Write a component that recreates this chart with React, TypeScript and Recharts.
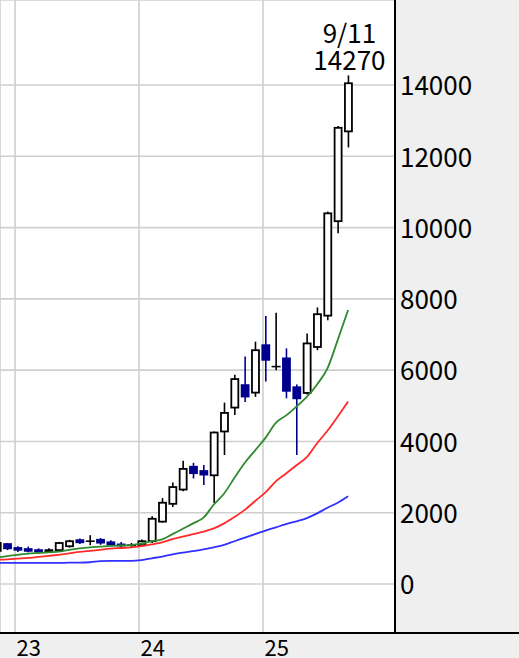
import React from 'react';
import { ComposedChart, Bar, Line, XAxis, YAxis, CartesianGrid } from 'recharts';

// monthly candles, index -1 = 2022-11 ... 33 = 2025-09
const monthIndex = [-1, 0, 1, 2, 3, 4, 5, 6, 7, 8, 9, 10, 11, 12, 13, 14, 15, 16, 17, 18, 19, 20, 21, 22, 23, 24, 25, 26, 27, 28, 29, 30, 31, 32, 33];
const opens = [930, 1120, 1010, 980, 950, 910, 950, 1060, 1230, 1200, 1240, 1170, 1110, 1080, 1090, 1200, 1750, 2250, 2650, 3290, 3170, 3050, 4280, 4950, 5580, 5370, 6700, 6100, 6330, 5520, 5360, 6650, 7530, 10180, 12700];
const highs = [1200, 1150, 1060, 1050, 1000, 1000, 1180, 1240, 1280, 1370, 1290, 1230, 1180, 1150, 1250, 1900, 2410, 2850, 3460, 3400, 3340, 4280, 5090, 5870, 6380, 6800, 7520, 7610, 6610, 5600, 7030, 7760, 10450, 12850, 14270];
const lows = [900, 950, 900, 890, 860, 880, 930, 1020, 1120, 1090, 1100, 1060, 1010, 1030, 1050, 1150, 1720, 2160, 2600, 2960, 2780, 2270, 3620, 4740, 5110, 5250, 5680, 6000, 5210, 3620, 5320, 6560, 7400, 9840, 12250];
const closes = [1150, 1000, 960, 930, 910, 950, 1150, 1200, 1170, 1200, 1160, 1110, 1080, 1090, 1200, 1830, 2280, 2720, 3230, 3110, 3070, 4250, 4800, 5750, 5260, 6560, 6290, 6100, 5420, 5210, 6750, 7570, 10400, 12800, 14050];
const maShort = [740, 780, 820, 850, 870, 890, 910, 960, 1000, 1030, 1050, 1070, 1080, 1090, 1140, 1200, 1250, 1400, 1550, 1700, 1860, 2230, 2540, 2980, 3400, 3750, 4100, 4520, 4730, 4980, 5250, 5600, 6050, 6850, 7690];
const maMid = [680, 690, 710, 730, 760, 790, 820, 860, 900, 930, 960, 990, 1010, 1030, 1060, 1110, 1170, 1260, 1330, 1400, 1470, 1560, 1700, 1880, 2080, 2330, 2570, 2880, 3100, 3330, 3560, 3950, 4300, 4700, 5120];
const maLong = [590, 590, 590, 590, 590, 590, 590, 600, 600, 610, 640, 650, 650, 650, 670, 720, 770, 830, 880, 920, 970, 1030, 1100, 1200, 1300, 1400, 1500, 1590, 1680, 1760, 1850, 1980, 2140, 2280, 2460];

const xTicks = [0.76, 12.76, 24.76];
const xTickLabels = ['23', '24', '25'];
const yTicks = [0, 2000, 4000, 6000, 8000, 10000, 12000, 14000];
const lastDateLabel = '9/11';
const lastPriceLabel = '14270';

const data = monthIndex.map((i, k) => ({
  i,
  range: [lows[k], highs[k]],
  o: opens[k],
  h: highs[k],
  l: lows[k],
  c: closes[k],
  ma1: maShort[k],
  ma2: maMid[k],
  ma3: maLong[k],
  last: k === monthIndex.length - 1,
}));

const FONT = '"Noto Sans CJK JP", "Noto Sans", sans-serif';
const DOWN = '#00008f';

const Candle = (props: any) => {
  const { x, y, width, height, payload } = props;
  if (!payload || x == null || y == null) return null;
  const top = Math.min(y, y + height);
  const bottom = Math.max(y, y + height);
  const span = payload.h - payload.l;
  const toY = (v: number) => (span === 0 ? top : top + ((payload.h - v) / span) * (bottom - top));
  const cx = x + width / 2;
  const up = payload.c >= payload.o;
  const color = up ? '#000' : DOWN;
  const bTop = toY(Math.max(payload.o, payload.c));
  const bBot = toY(Math.min(payload.o, payload.c));
  const bw = 7;
  return (
    <g>
      <line x1={cx} x2={cx} y1={top} y2={bottom} stroke={color} strokeWidth={1.6} />
      {bBot - bTop < 1 ? (
        <line x1={cx - bw / 2 - 1} x2={cx + bw / 2 + 1} y1={bTop} y2={bTop} stroke={color} strokeWidth={1.6} />
      ) : (
        <rect x={cx - bw / 2} y={bTop} width={bw} height={bBot - bTop} fill={up ? '#fff' : DOWN} stroke={color} strokeWidth={1.8} />
      )}
      {payload.last && (
        <g fontFamily={FONT} fontSize={26} fill="#000" textAnchor="middle">
          <text x={cx + 1} y={top - 32}>{lastDateLabel}</text>
          <text x={cx + 1} y={top - 5}>{lastPriceLabel}</text>
        </g>
      )}
    </g>
  );
};

const XTick = (props: any) => {
  const { x, y, payload } = props;
  const k = xTicks.indexOf(payload.value);
  return (
    <text x={x + 1.5} y={y + 23} fontSize={22} fontFamily={FONT} fill="#000" textAnchor="start">
      {k >= 0 ? xTickLabels[k] : ''}
    </text>
  );
};

export default function App() {
  return (
    <div style={{ position: 'absolute', left: 0, top: 0, width: 519, height: 658, background: '#efefef', overflow: 'hidden' }}>
      <ComposedChart width={519} height={658} data={data} margin={{ top: 0, right: 0, left: 0, bottom: 0 }}>
        <CartesianGrid stroke="#cfcfcf" strokeWidth={1.6} fill="#fff" />
        <XAxis
          dataKey="i"
          type="number"
          domain={[-0.7, 37.54]}
          allowDataOverflow
          ticks={xTicks}
          height={25}
          tickLine={false}
          axisLine={false}
          tickSize={0}
          tickMargin={0}
          tick={<XTick />}
        />
        <YAxis
          orientation="right"
          type="number"
          domain={[-1375, 16386]}
          allowDataOverflow
          ticks={yTicks}
          width={124}
          tickLine={false}
          tickSize={0}
          tickMargin={5}
          axisLine={{ stroke: '#000', strokeWidth: 2 }}
          tick={{ fontSize: 26, fill: '#000', fontFamily: FONT, dy: 1 }}
        />
        <Line type="monotone" dataKey="ma3" stroke="#3030ff" strokeWidth={1.8} dot={false} isAnimationActive={false} />
        <Line type="monotone" dataKey="ma2" stroke="#ff2a2a" strokeWidth={1.8} dot={false} isAnimationActive={false} />
        <Line type="monotone" dataKey="ma1" stroke="#2f8a2f" strokeWidth={1.8} dot={false} isAnimationActive={false} />
        <Bar dataKey="range" barSize={9} shape={<Candle />} isAnimationActive={false} />
      </ComposedChart>
      <div style={{ position: 'absolute', left: 0, top: 632, width: 519, height: 2, background: '#000' }} />
    </div>
  );
}
